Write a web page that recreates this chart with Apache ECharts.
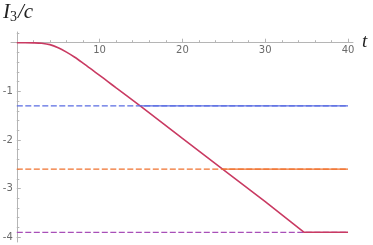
<!DOCTYPE html>
<html><head><meta charset="utf-8">
<script src="https://cdn.jsdelivr.net/npm/echarts@6/dist/echarts.min.js"></script>
<style>html,body{margin:0;padding:0;background:#fff}#c{width:373px;height:245px}</style>
</head><body><div id="c"></div>
<script>
// rising part of I3/c (smooth)
const tCurve = [0, 1, 2, 3, 4, 5, 6, 7, 8, 9, 10, 11, 12, 14.9];
const iCurve = [0, 0, -0.003, -0.012, -0.04, -0.105, -0.195, -0.3, -0.42, -0.545, -0.672, -0.8, -0.93, -1.3];
// straight part of I3/c
const tLine = [14.9, 20, 24.85, 30, 34.7, 40];
const iLine = [-1.3, -1.97, -2.6, -3.27, -3.9, -3.9];
// saturation levels (dashed) and where the curve reaches them
const levels = [-1.3, -2.6, -3.9];
const tReach = [14.9, 24.85, 34.7];
const levelColors = ['#5a6ce2', '#f0722f', '#a84fb8'];
const curveColor = '#c93a62';
// ticks
const xMajor = [10, 20, 30, 40];
const xMinor = [2, 4, 6, 8, 12, 14, 16, 18, 22, 24, 26, 28, 32, 34, 36, 38];
const yMajor = [-1, -2, -3, -4];
const yMinor = [0.2, -0.2, -0.4, -0.6, -0.8, -1.2, -1.4, -1.6, -1.8, -2.2, -2.4, -2.6, -2.8, -3.2, -3.4, -3.6, -3.8, -4.0];

const tMin = -0.7, tMax = 40.6, yMin = -4.1, yMax = 0.22;
const axisColor = '#b5b5b5';
const labelColor = '#6a6a6a';
const labelFont = 'DejaVu Sans';

const series = [];
for (let k = 0; k < 2; k++) {
  series.push({type: 'line', data: [[tReach[k], levels[k]], [40, levels[k]]], symbol: 'none',
    lineStyle: {color: levelColors[k], width: 1.4}, z: 2});
}
series.push({type: 'line', data: tCurve.map((t, i) => [t, iCurve[i]]), symbol: 'none', smooth: 0.3,
  lineStyle: {color: curveColor, width: 1.6}, z: 4});
series.push({type: 'line', data: tLine.map((t, i) => [t, iLine[i]]), symbol: 'none',
  lineStyle: {color: curveColor, width: 1.6}, z: 4});
levels.forEach((v, k) => {
  series.push({type: 'line', data: [[0, v], [40, v]], symbol: 'none',
    lineStyle: {color: levelColors[k], width: 1.3, type: [6, 2.5]}, z: k === 2 ? 3 : 5});
});

const chart = echarts.init(document.getElementById('c'), null, {renderer: 'canvas'});
chart.setOption({
  animation: false,
  grid: {left: 11, right: 20, top: 32, bottom: 3, containLabel: false, outerBoundsMode: 'none'},
  xAxis: [
    {type: 'value', min: tMin, max: tMax, position: 'bottom',
     axisLine: {onZero: true, lineStyle: {color: axisColor, width: 1}},
     axisTick: {inside: true, length: 4, customValues: xMajor, lineStyle: {color: axisColor}},
     axisLabel: {show: false}, splitLine: {show: false}},
    {type: 'value', min: tMin, max: tMax, position: 'bottom',
     axisLine: {show: false, onZero: true},
     axisTick: {inside: true, length: 2.5, customValues: xMinor, lineStyle: {color: axisColor}},
     axisLabel: {show: false}, splitLine: {show: false}}
  ],
  yAxis: [
    {type: 'value', min: yMin, max: yMax, position: 'left',
     axisLine: {onZero: true, lineStyle: {color: axisColor, width: 1}},
     axisTick: {inside: true, length: 4, customValues: yMajor, lineStyle: {color: axisColor}},
     axisLabel: {show: false}, splitLine: {show: false}},
    {type: 'value', min: yMin, max: yMax, position: 'left',
     axisLine: {show: false, onZero: true},
     axisTick: {inside: true, length: 2.5, customValues: yMinor, lineStyle: {color: axisColor}},
     axisLabel: {show: false}, splitLine: {show: false}}
  ],
  series: series
});

// tick labels placed through the chart's own scales
const graphics = [
  {type: 'text', left: 3, top: 2, style: {
    text: '{i|I}{s|3}{i|/c}',
    rich: {
      i: {fontFamily: 'Liberation Serif', fontStyle: 'italic', fontSize: 21, fill: '#222'},
      s: {fontFamily: 'Liberation Serif', fontSize: 14, fill: '#222', padding: [9, 1, 0, 0]}
    }}},
  {type: 'text', left: 362, top: 32, style: {text: 't', fontFamily: 'Liberation Serif',
    fontStyle: 'italic', fontSize: 19, fill: '#222'}}
];
xMajor.forEach(v => {
  const p = chart.convertToPixel({xAxisIndex: 0, yAxisIndex: 0}, [v, 0]);
  graphics.push({type: 'text', x: p[0], y: p[1] + 3, style: {text: String(v), fontSize: 10,
    fontFamily: labelFont, fill: labelColor, align: 'center', verticalAlign: 'top'}});
});
yMajor.forEach(v => {
  const p = chart.convertToPixel({xAxisIndex: 0, yAxisIndex: 0}, [0, v]);
  graphics.push({type: 'text', x: p[0] - 4, y: p[1], style: {text: '-' + Math.abs(v), fontSize: 10,
    fontFamily: labelFont, fill: labelColor, align: 'right', verticalAlign: 'middle'}});
});
chart.setOption({graphic: graphics});
</script></body></html>
